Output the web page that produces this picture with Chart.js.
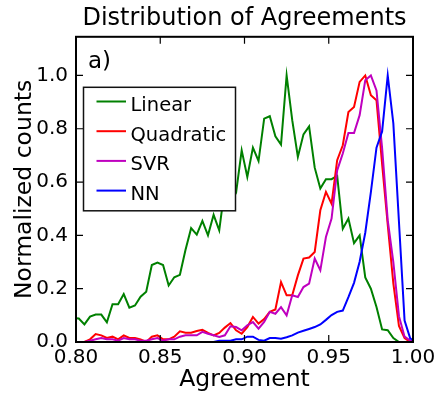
<!DOCTYPE html>
<html>
<head>
<meta charset="utf-8">
<title>Distribution of Agreements</title>
<script src="https://cdn.jsdelivr.net/npm/chart.js@4.4.1/dist/chart.umd.min.js"></script>
<style>
  html, body { margin: 0; padding: 0; background: #fff; }
  #wrap { width: 436px; height: 394px; }
</style>
</head>
<body>
<div id="wrap"><canvas id="agreementChart" width="436" height="394"></canvas></div>
<script>
// histogram bin centres (bin width 1/300), one extra bin on each side of the axis range
const agreement = [
  0.79833, 0.80167, 0.80500, 0.80833, 0.81167, 0.81500, 0.81833, 0.82167, 0.82500, 0.82833,
  0.83167, 0.83500, 0.83833, 0.84167, 0.84500, 0.84833, 0.85167, 0.85500, 0.85833, 0.86167,
  0.86500, 0.86833, 0.87167, 0.87500, 0.87833, 0.88167, 0.88500, 0.88833, 0.89167, 0.89500,
  0.89833, 0.90167, 0.90500, 0.90833, 0.91167, 0.91500, 0.91833, 0.92167, 0.92500, 0.92833,
  0.93167, 0.93500, 0.93833, 0.94167, 0.94500, 0.94833, 0.95167, 0.95500, 0.95833, 0.96167,
  0.96500, 0.96833, 0.97167, 0.97500, 0.97833, 0.98167, 0.98500, 0.98833, 0.99167, 0.99500,
  0.99833, 1.00167
]

// normalized counts per model
const linear = [
  0.090, 0.088, 0.066, 0.095, 0.103, 0.103, 0.074, 0.142, 0.142, 0.180,
  0.129, 0.137, 0.170, 0.189, 0.289, 0.298, 0.289, 0.212, 0.243, 0.252,
  0.346, 0.427, 0.403, 0.454, 0.400, 0.477, 0.419, 0.580, 0.520, 0.560,
  0.719, 0.619, 0.729, 0.679, 0.838, 0.847, 0.772, 0.741, 1.000, 0.832,
  0.694, 0.779, 0.809, 0.654, 0.576, 0.611, 0.611, 0.623, 0.425, 0.463,
  0.371, 0.400, 0.242, 0.200, 0.131, 0.047, 0.044, 0.015, 0.000, 0.000,
  0.000, 0.000
]
const quadratic = [
  0.000, 0.000, 0.000, 0.010, 0.030, 0.025, 0.015, 0.020, 0.010, 0.025,
  0.015, 0.015, 0.010, 0.000, 0.020, 0.025, 0.010, 0.010, 0.020, 0.040,
  0.035, 0.035, 0.041, 0.046, 0.034, 0.025, 0.034, 0.054, 0.071, 0.044,
  0.031, 0.056, 0.094, 0.069, 0.086, 0.113, 0.122, 0.225, 0.175, 0.175,
  0.250, 0.313, 0.317, 0.338, 0.494, 0.563, 0.519, 0.682, 0.738, 0.863,
  0.882, 0.976, 1.000, 0.926, 0.907, 0.667, 0.440, 0.220, 0.060, 0.015,
  0.000, 0.000
]
const svr = [
  0.000, 0.000, 0.000, 0.005, 0.010, 0.015, 0.010, 0.010, 0.005, 0.015,
  0.010, 0.010, 0.005, 0.005, 0.010, 0.015, 0.005, 0.010, 0.010, 0.020,
  0.025, 0.025, 0.025, 0.038, 0.031, 0.025, 0.019, 0.025, 0.059, 0.056,
  0.044, 0.063, 0.075, 0.050, 0.075, 0.113, 0.106, 0.131, 0.100, 0.175,
  0.169, 0.206, 0.219, 0.313, 0.269, 0.394, 0.463, 0.644, 0.707, 0.784,
  0.784, 0.851, 0.982, 1.000, 0.944, 0.727, 0.457, 0.300, 0.097, 0.020,
  0.005, 0.000
]
const nn = [
  0.000, 0.000, 0.000, 0.000, 0.000, 0.000, 0.000, 0.000, 0.000, 0.000,
  0.000, 0.000, 0.000, 0.000, 0.000, 0.000, 0.000, 0.000, 0.000, 0.000,
  0.000, 0.000, 0.000, 0.000, 0.000, 0.000, 0.005, 0.005, 0.005, 0.010,
  0.010, 0.020, 0.020, 0.008, 0.005, 0.015, 0.015, 0.012, 0.018, 0.025,
  0.035, 0.042, 0.049, 0.056, 0.066, 0.083, 0.101, 0.113, 0.118, 0.168,
  0.222, 0.301, 0.410, 0.562, 0.729, 0.790, 1.000, 0.820, 0.450, 0.080,
  0.014, 0.000
]

const seriesNames = ["Linear", "Quadratic", "SVR", "NN"]
const seriesColors = ["#008000", "#ff0000", "#bf00bf", "#0000ff"]
const xTickValues = [0.80, 0.85, 0.90, 0.95, 1.00]
const yTickValues = [0.0, 0.2, 0.4, 0.6, 0.8, 1.0]

const FONT = "'DejaVu Sans', sans-serif"
Chart.defaults.font.family = FONT
Chart.defaults.color = "#000"

// frame, inward ticks on all four sides, the legend box and the panel tag
const framePlugin = {
  id: "frameAndLegend",
  afterDatasetsDraw(chart) {
    const { ctx, chartArea: a, scales } = chart
    const tickLen = 7
    ctx.save()
    ctx.strokeStyle = "#000"
    ctx.lineWidth = 1.2
    ctx.beginPath()
    scales.x.ticks.forEach((t) => {
      const px = scales.x.getPixelForValue(t.value)
      ctx.moveTo(px, a.bottom); ctx.lineTo(px, a.bottom - tickLen)
      ctx.moveTo(px, a.top); ctx.lineTo(px, a.top + tickLen)
    })
    scales.y.ticks.forEach((t) => {
      const py = scales.y.getPixelForValue(t.value)
      ctx.moveTo(a.left, py); ctx.lineTo(a.left + tickLen, py)
      ctx.moveTo(a.right, py); ctx.lineTo(a.right - tickLen, py)
    })
    ctx.stroke()

    ctx.lineWidth = 2
    ctx.strokeRect(a.left, a.top, a.width, a.height)

    // panel tag
    ctx.fillStyle = "#000"
    ctx.font = "23px " + FONT
    ctx.textBaseline = "alphabetic"
    ctx.textAlign = "left"
    ctx.fillText("a)", a.left + 12, a.top + 31)

    // legend
    const box = { x: a.left + 7.5, y: a.top + 50.5, w: 152, h: 123.5 }
    ctx.fillStyle = "#fff"
    ctx.fillRect(box.x, box.y, box.w, box.h)
    ctx.lineWidth = 1.5
    ctx.strokeStyle = "#111"
    ctx.strokeRect(box.x, box.y, box.w, box.h)
    ctx.font = "19.5px " + FONT
    chart.data.datasets.forEach((ds, i) => {
      const base = box.y + 23.5 + i * 29.7
      ctx.strokeStyle = ds.borderColor
      ctx.lineWidth = 2
      ctx.beginPath()
      ctx.moveTo(box.x + 13, base - 9.3)
      ctx.lineTo(box.x + 42.5, base - 9.3)
      ctx.stroke()
      ctx.fillStyle = "#000"
      ctx.fillText(ds.label, box.x + 47, base)
    })
    ctx.restore()
  }
}

const seriesData = [linear, quadratic, svr, nn]

new Chart(document.getElementById("agreementChart"), {
  type: "line",
  data: {
    datasets: seriesNames.map((name, i) => ({
      label: name,
      data: seriesData[i].map((y, k) => ({ x: agreement[k], y })),
      borderColor: seriesColors[i],
      borderWidth: 2,
      pointRadius: 0,
      tension: 0,
      fill: false,
      order: seriesNames.length - i
    }))
  },
  options: {
    responsive: false,
    animation: false,
    layout: { padding: { top: 0, right: 23, bottom: 0, left: 0 } },
    plugins: {
      legend: { display: false },
      tooltip: { enabled: false },
      title: {
        display: true,
        text: "Distribution of Agreements",
        fullSize: false,
        font: { size: 24, weight: "normal" },
        color: "#000",
        padding: { top: 4, bottom: 4 }
      }
    },
    scales: {
      x: {
        type: "linear",
        min: 0.8,
        max: 1.0,
        afterBuildTicks: (scale) => { scale.ticks = xTickValues.map((v) => ({ value: v })) },
        afterFit: (scale) => {
          scale.height = 52
          scale.paddingLeft = 0
          scale.paddingRight = 0
        },
        grid: { display: false, drawTicks: false },
        border: { display: false },
        ticks: {
          font: { size: 20 },
          padding: 4,
          maxRotation: 0,
          callback: (v) => Number(v).toFixed(2)
        },
        title: {
          display: true,
          text: "Agreement",
          font: { size: 23.5 },
          padding: { top: 0, bottom: 0 }
        }
      },
      y: {
        min: 0,
        max: 1.145,
        afterBuildTicks: (scale) => { scale.ticks = yTickValues.map((v) => ({ value: v })) },
        afterFit: (scale) => {
          scale.width = 76
          scale.paddingTop = 0
          scale.paddingBottom = 0
        },
        grid: { display: false, drawTicks: false },
        border: { display: false },
        ticks: {
          font: { size: 20 },
          padding: 8,
          callback: (v) => Number(v).toFixed(1)
        },
        title: {
          display: true,
          text: "Normalized counts",
          font: { size: 23.5 },
          padding: { top: 11, bottom: 0 }
        }
      }
    }
  },
  plugins: [framePlugin]
})
</script>
</body>
</html>
